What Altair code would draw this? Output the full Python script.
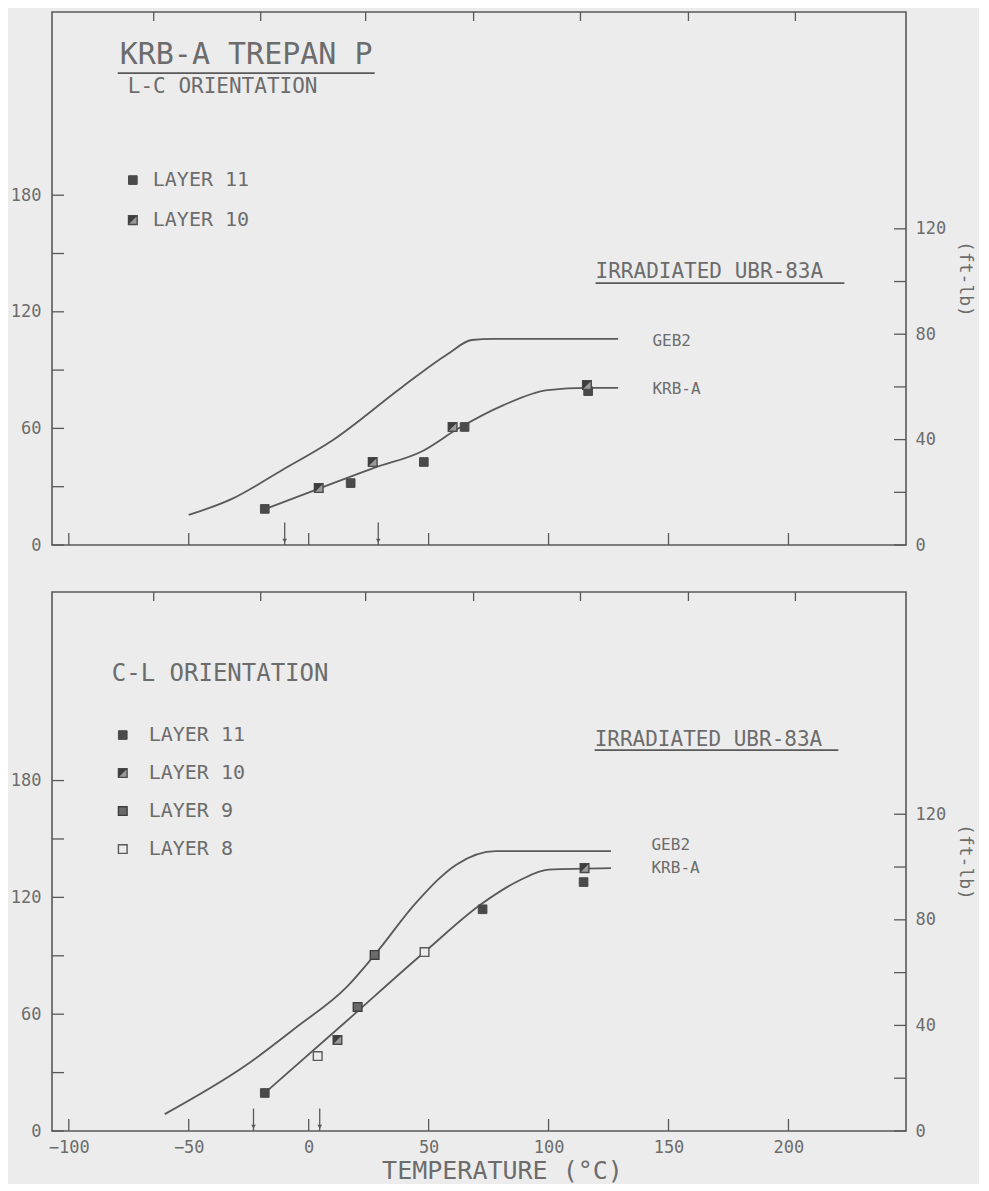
import altair as alt
import pandas as pd

FT2J = 1.3558
X_DOMAIN = [-107, 249]
W = 854
H_TOP, H_BOT = 533, 539
EMAX_TOP, EMAX_BOT = 202.3, 204.2

LINE = "#595959"
TEXT = "#6c6c6c"
BG = "#ececec"
FONT = "DejaVu Sans Mono"

# axis ticks / labels
x_tick_vals = [-100, -50, 0, 50, 100, 150, 200]
x_top_tick_vals = [-64.6, -20, 23.75, 68.75, 113.3, 158.3, 202.9]
left_tick_J = [0, 30, 60, 90, 120, 150, 180]
left_label_J = [0, 60, 120, 180]
right_tick_ft = [0, 20, 40, 60, 80, 100, 120]
right_label_ft = [0, 40, 80, 120]

# ---------------- top panel (L-C orientation) ----------------
top_geb2_T = [-50, -32, -11, 10, 39, 58, 68, 77, 129]
top_geb2_E = [11.4, 17.5, 28.5, 39.8, 60, 72.5, 77.8, 78.2, 78.2]
top_krba_T = [-18, 4, 27, 47.5, 62, 81, 99.6, 116, 129]
top_krba_E = [13.7, 21.3, 29.2, 35.7, 44, 53, 58.8, 59.6, 59.6]
top_pts_T = [-18.3, 4.2, 17.5, 26.7, 48, 60, 65, 116, 116.5]
top_pts_E = [13.7, 21.6, 23.5, 31.5, 31.5, 44.8, 44.8, 60.7, 58.4]
top_pts_layer = ["11", "10", "11", "10", "11", "10", "11", "10", "11"]
top_arrows_T = [-10, 29]
top_legend_layer = ["11", "10"]
top_legend_label = ["LAYER 11", "LAYER 10"]
top_legend_E = [138.5, 123.3]
top_legend_sym_T = -73.3
top_legend_txt_T = -65
top_texts = ["KRB-A TREPAN P", "L-C ORIENTATION", "IRRADIATED UBR-83A", "GEB2", "KRB-A"]
top_texts_T = [-78.8, -75.4, 119.6, 143.3, 143.3]
top_texts_E = [186.0, 173.8, 103.6, 77.4, 59.2]
top_texts_fs = [30, 21, 21, 16, 16]
top_under_T1 = [-79.6, 119.6]
top_under_T2 = [27.5, 223.3]
top_under_E = [179.1, 99.4]

# ---------------- bottom panel (C-L orientation) ----------------
bot_geb2_T = [-60, -26, -5, 15.8, 27.5, 45, 61.7, 78, 126]
bot_geb2_E = [6.4, 25, 39.4, 54.5, 66.7, 86.7, 101, 106, 106]
bot_krba_T = [-18.3, 15, 48.3, 72, 88, 100, 126]
bot_krba_E = [14.4, 41, 67.8, 86, 95, 99, 99.6]
bot_pts_T = [-18.3, 72.5, 114.6, 12, 115, 20.4, 27.5, 3.75, 48.3]
bot_pts_E = [14.4, 84, 94.3, 34.5, 99.6, 47, 66.7, 28.4, 67.8]
bot_pts_layer = ["11", "11", "11", "10", "10", "9", "9", "8", "8"]
bot_arrows_T = [-23, 4.6]
bot_legend_layer = ["11", "10", "9", "8"]
bot_legend_label = ["LAYER 11", "LAYER 10", "LAYER  9", "LAYER  8"]
bot_legend_E = [150, 135.6, 121.2, 106.8]
bot_legend_sym_T = -77.5
bot_legend_txt_T = -66.7
bot_texts = ["C-L ORIENTATION", "IRRADIATED UBR-83A", "GEB2", "KRB-A"]
bot_texts_T = [-82.1, 119.2, 142.9, 142.9]
bot_texts_E = [173.1, 148.1, 108.3, 99.6]
bot_texts_fs = [24, 21, 16, 16]
bot_under_T1 = [119.2]
bot_under_T2 = [220.8]
bot_under_E = [144.3]


def marker_layers(df, X, Y):
    base = alt.Chart(df).encode(x=X, y=Y)
    size = 75
    l8 = base.transform_filter(alt.datum.layer == "8").mark_point(
        shape="square", filled=True, fill=BG, stroke=LINE, strokeWidth=1.4, size=size, opacity=1)
    l11 = base.transform_filter(alt.datum.layer == "11").mark_point(
        shape="square", filled=True, fill="#4a4a4a", stroke="#4a4a4a", strokeWidth=1, size=size, opacity=1)
    l10o = base.transform_filter(alt.datum.layer == "10").mark_point(
        shape="square", filled=True, fill="#9a9a9a", stroke="#4a4a4a", strokeWidth=1.4, size=size, opacity=1)
    l10f = base.transform_filter(alt.datum.layer == "10").mark_point(
        shape="M-1,-1L1,-1L-1,1Z", filled=True, fill="#3e3e3e", size=size, opacity=1, strokeWidth=0)
    l9 = base.transform_filter(alt.datum.layer == "9").mark_point(
        shape="square", filled=True, fill="#6a6a6a", stroke="#3e3e3e", strokeWidth=1.4, size=size, opacity=1)
    return [l8, l11, l10o, l10f, l9]


def panel(geb_T, geb_E, krb_T, krb_E, pT, pE, pL, arrT, legL, legLab, legE, legST, legTT,
          txt, txtT, txtE, txtFs, uT1, uT2, uE, H, EMAX, show_x):
    xs = alt.Scale(domain=X_DOMAIN, nice=False, zero=False)
    ys = alt.Scale(domain=[0, EMAX], nice=False, zero=False)
    ysJ = alt.Scale(domain=[0, EMAX * FT2J], nice=False, zero=False)

    if show_x:
        xax = alt.Axis(values=x_tick_vals, ticks=False, domain=False, grid=False,
                       labelFont=FONT, labelFontSize=17, labelColor=TEXT, labelPadding=8,
                       labelFlush=False, title="TEMPERATURE (°C)", titleFont=FONT,
                       titleFontSize=25, titleFontWeight="normal", titleColor=TEXT,
                       titlePadding=3, titleX=450, titleAlign="center")
    else:
        xax = None
    yax = alt.Axis(orient="right", values=right_label_ft, ticks=False, domain=False,
                   grid=False, labelFont=FONT, labelFontSize=17, labelColor=TEXT,
                   labelPadding=9, labelFlush=False, title="(ft-lb)",
                   titleFont=FONT, titleFontSize=18, titleFontWeight="normal",
                   titleColor=TEXT, titlePadding=10)

    def X(f):
        return alt.X(f, scale=xs, axis=xax)

    def Y(f):
        return alt.Y(f, scale=ys, axis=yax)

    # left (joule) scale group: tick marks inside + labels
    jdf = pd.DataFrame({"J": left_tick_J})
    jlayer = alt.Chart(jdf).mark_rule(color=LINE, strokeWidth=1.3).encode(
        y=alt.Y("J:Q", scale=ysJ,
                axis=alt.Axis(orient="left", values=left_label_J, ticks=False, domain=False,
                              grid=False, labelFont=FONT, labelFontSize=17, labelColor=TEXT,
                              labelPadding=11, labelFlush=False, title=None)),
        x=alt.value(0), x2=alt.value(12),
    )

    # frame ticks (ft-lb right side, temperature bottom and top)
    rdf = pd.DataFrame({"E": right_tick_ft})
    rticks = alt.Chart(rdf).mark_rule(color=LINE, strokeWidth=1.3).encode(
        y=Y("E:Q"), x=alt.value(W - 12), x2=alt.value(W),
    )
    xdf = pd.DataFrame({"T": x_tick_vals})
    bticks = alt.Chart(xdf).mark_rule(color=LINE, strokeWidth=1.3).encode(
        x=X("T:Q"), y=alt.value(H), y2=alt.value(H - 12),
    )
    xtdf = pd.DataFrame({"T": x_top_tick_vals})
    tticks = alt.Chart(xtdf).mark_rule(color=LINE, strokeWidth=1.3).encode(
        x=X("T:Q"), y=alt.value(0), y2=alt.value(9),
    )

    cdf = pd.concat([
        pd.DataFrame({"T": geb_T, "E": geb_E, "c": "GEB2"}),
        pd.DataFrame({"T": krb_T, "E": krb_E, "c": "KRB-A"}),
    ])
    curves = alt.Chart(cdf).mark_line(color=LINE, strokeWidth=1.8, interpolate="monotone").encode(
        x=X("T:Q"), y=Y("E:Q"), detail="c:N",
    )

    pdf = pd.DataFrame({"T": pT, "E": pE, "layer": pL})
    pts = marker_layers(pdf, X("T:Q"), Y("E:Q"))

    adf = pd.DataFrame({"T": arrT, "E0": [0] * len(arrT), "E1": [8.5] * len(arrT), "Eh": [1.6] * len(arrT)})
    arr_rule = alt.Chart(adf).mark_rule(color=LINE, strokeWidth=1.3).encode(
        x=X("T:Q"), y=Y("E0:Q"), y2="E1:Q",
    )
    arr_head = alt.Chart(adf).mark_point(shape="triangle-down", filled=True, color=LINE,
                                         size=22, opacity=1).encode(
        x=X("T:Q"), y=Y("Eh:Q"),
    )

    ldf = pd.DataFrame({"T": [legST] * len(legL), "E": legE, "layer": legL})
    leg_pts = marker_layers(ldf, X("T:Q"), Y("E:Q"))
    ltdf = pd.DataFrame({"T": [legTT] * len(legL), "E": legE, "t": legLab})
    leg_txt = alt.Chart(ltdf).mark_text(align="left", baseline="middle", font=FONT,
                                        fontSize=20, color=TEXT).encode(
        x=X("T:Q"), y=Y("E:Q"), text="t:N",
    )

    tdf = pd.DataFrame({"T": txtT, "E": txtE, "t": txt, "fs": txtFs})
    texts = alt.Chart(tdf).mark_text(align="left", baseline="middle", font=FONT, color=TEXT).encode(
        x=X("T:Q"), y=Y("E:Q"), text="t:N",
        size=alt.Size("fs:Q", scale=None, legend=None),
    )
    udf = pd.DataFrame({"T1": uT1, "T2": uT2, "E": uE})
    unders = alt.Chart(udf).mark_rule(color=LINE, strokeWidth=1.6).encode(
        x=X("T1:Q"), x2="T2:Q", y=Y("E:Q"),
    )

    ft_layer = alt.layer(rticks, bticks, tticks, curves, arr_rule, arr_head, unders, texts, leg_txt,
                         *pts, *leg_pts)
    return alt.layer(jlayer, ft_layer).resolve_scale(y="independent").properties(width=W, height=H)


top = panel(top_geb2_T, top_geb2_E, top_krba_T, top_krba_E, top_pts_T, top_pts_E, top_pts_layer,
            top_arrows_T, top_legend_layer, top_legend_label, top_legend_E, top_legend_sym_T,
            top_legend_txt_T, top_texts, top_texts_T, top_texts_E, top_texts_fs,
            top_under_T1, top_under_T2, top_under_E, H_TOP, EMAX_TOP, False)
bot = panel(bot_geb2_T, bot_geb2_E, bot_krba_T, bot_krba_E, bot_pts_T, bot_pts_E, bot_pts_layer,
            bot_arrows_T, bot_legend_layer, bot_legend_label, bot_legend_E, bot_legend_sym_T,
            bot_legend_txt_T, bot_texts, bot_texts_T, bot_texts_E, bot_texts_fs,
            bot_under_T1, bot_under_T2, bot_under_E, H_BOT, EMAX_BOT, True)

chart = alt.vconcat(top, bot, spacing=36).properties(
    padding={"left": 1, "top": 2, "right": 4, "bottom": 0},
    background=BG,
).configure_view(stroke=LINE, strokeWidth=1.6)

chart.save("out.html", embed_options={"renderer": "svg", "actions": False})
